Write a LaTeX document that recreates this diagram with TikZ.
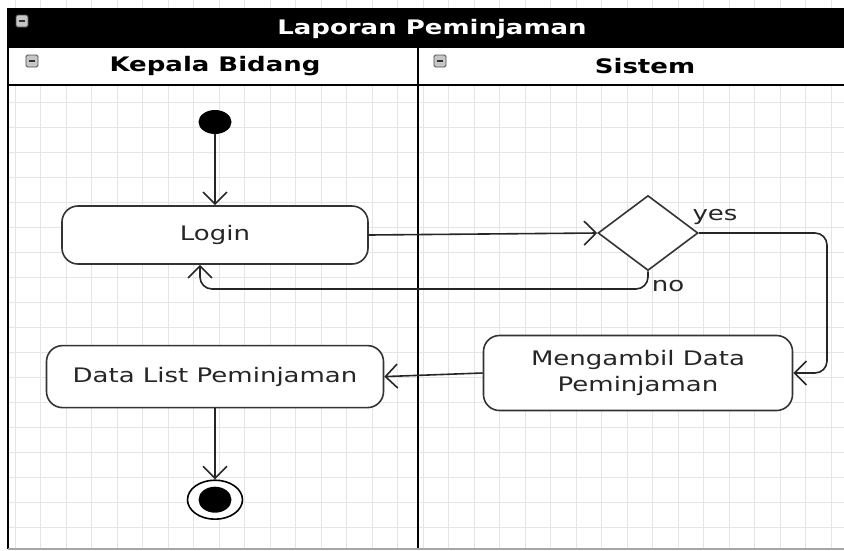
\documentclass[tikz,border=0pt]{standalone}
\usepackage{fontspec}
\setmainfont{DejaVu Sans}[FakeStretch=1.3]
\usepackage{tikz}
\usetikzlibrary{positioning,shapes.geometric,arrows.meta}

\begin{document}
\begin{tikzpicture}[x=1pt,y=-1pt]

\tikzstyle{every node}=[font=\fontsize{20pt}{26pt}\selectfont, text=black!85]
\tikzstyle{activity}=[draw=black!80, line width=1.6pt, rounded corners=16pt, fill=white, align=center, inner sep=0pt]
\tikzstyle{flow}=[draw=black!85, line width=1.6pt, -{Straight Barb[length=12pt,width=24pt,line width=1.6pt]}]
\tikzstyle{gridline}=[draw=gray!20, line width=0.8pt]
\tikzstyle{lane}=[font=\fontsize{20pt}{24pt}\selectfont\bfseries, text=black]
\tikzstyle{icon}=[draw=gray!60!black, fill=gray!45, minimum size=12pt, inner sep=0pt, line width=0.8pt, rounded corners=1.5pt,
  path picture={\draw[black!80, line width=1.2pt] ([xshift=3pt]path picture bounding box.west) -- ([xshift=-3pt]path picture bounding box.east);}]

\useasboundingbox (0,0) rectangle (844,550);

% grid %
\foreach \x in {15,40.5,...,844} \draw[gridline] (\x,0) -- (\x,550);
\foreach \y in {102,127,...,550} \draw[gridline] (8,\y) -- (844,\y);

% swimlanes %
\fill[black] (8,8) rectangle (846,47);
\draw[line width=2pt, fill=white] (8,47) rectangle (846,85);
\draw[line width=2pt] (8,8) -- (8,549);
\draw[line width=2pt] (418,47) -- (418,549);
\draw[line width=1.5pt, gray!70] (8,549) -- (844,549);

\node[lane, text=white] (title) at (432,29) {Laporan Peminjaman};
\node[lane] (kabid) at (215,66) {Kepala Bidang};
\node[lane] (sistem) at (645,66) {Sistem};
\node[icon] (ticon) at (22,21) {};
\node[icon] (kicon) at (32,61) {};
\node[icon] (sicon) at (440,61) {};

% nodes %
\node[ellipse, fill=black, minimum width=33pt, minimum height=24pt, inner sep=0pt] (start) at (215,122) {};
\node[activity, minimum width=306pt, minimum height=58pt, below=71pt of start] (login) {Login};
\node[activity, minimum width=337pt, minimum height=62pt, below=80pt of login] (datalist) {Data List Peminjaman};
\node[ellipse, draw=black, line width=1.6pt, fill=white, minimum width=55pt, minimum height=39pt, inner sep=0pt, below=71pt of datalist] (end) {};
\node[ellipse, fill=black, minimum width=33pt, minimum height=26pt, inner sep=0pt] (endin) at (end) {};

\node[diamond, draw=black!80, line width=1.6pt, fill=white, minimum width=100pt, minimum height=75pt, inner sep=0pt] (cek) at (648,233) {};
\node[activity, minimum width=309pt, minimum height=75pt] (ambil) at (638,373) {Mengambil Data\\Peminjaman};

\node (yes) at (715,217) {yes};
\node (no) at (668,286) {no};

% edges %
\coordinate (yesbend) at (827,373);
\coordinate (nobend) at (200,289);

\draw[flow] (start) -- (login);
\draw[flow] (login.east) -- (cek.west);
\draw[flow, rounded corners=12pt] (cek.east) -| (yesbend) -- (ambil.east);
\draw[flow, rounded corners=12pt] (cek.south) |- (nobend) -- (nobend |- login.south);
\draw[flow] (ambil.west) -- (datalist.east);
\draw[flow] (datalist) -- (end);

\end{tikzpicture}
\end{document}
